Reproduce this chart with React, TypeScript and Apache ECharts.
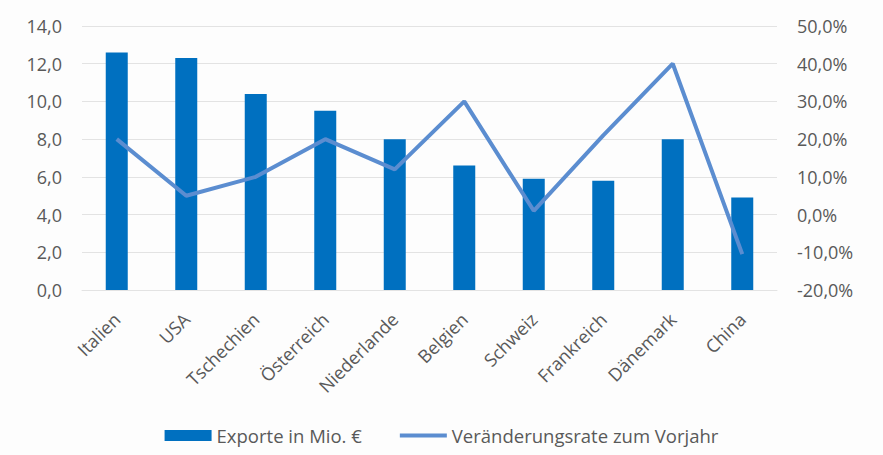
import React, { useEffect, useRef } from "react";
import * as echarts from "echarts";

const categories = ["Italien", "USA", "Tschechien", "Österreich", "Niederlande", "Belgien", "Schweiz", "Frankreich", "Dänemark", "China"];
const exports = [12.6, 12.3, 10.4, 9.5, 8.0, 6.6, 5.9, 5.8, 8.0, 4.9];
const changeRate = [20, 5, 10, 20, 12, 30, 1, 21, 40, -10.5];
const seriesNames = ["Exporte in Mio. €", "Veränderungsrate zum Vorjahr"];

const fmt = (v: number) => v.toFixed(1).replace(".", ",");

export default function App() {
  const ref = useRef<HTMLDivElement>(null);
  useEffect(() => {
    const chart = echarts.init(ref.current!, null, { renderer: "svg" });
    const font = "'Open Sans', 'Noto Sans', sans-serif";
    const grey = "#595959";
    chart.setOption({
      animation: false,
      backgroundColor: "#FDFDFD",
      textStyle: { fontFamily: font },
      grid: { left: 82, right: 106, top: 26, bottom: 165, containLabel: false },
      legend: {
        bottom: 5,
        left: "center",
        itemWidth: 47,
        itemHeight: 11,
        itemGap: 38,
        textStyle: { fontSize: 18.5, color: grey, fontFamily: font },
        data: [
          { name: seriesNames[0], icon: "rect" },
          { name: seriesNames[1], icon: "path://M0,0 M0,3.5 L47,3.5 L47,7.5 L0,7.5 Z M47,11" },
        ],
      },
      xAxis: {
        type: "category",
        data: categories,
        axisLine: { show: true, lineStyle: { color: "#E3E3E3" } },
        axisTick: { show: false },
        axisLabel: { rotate: 45, fontSize: 18, color: grey, margin: 26, interval: 0 },
      },
      yAxis: [
        {
          type: "value",
          min: 0,
          max: 14,
          interval: 2,
          axisLine: { show: false },
          axisTick: { show: false },
          axisLabel: { formatter: (v: number) => fmt(v), fontSize: 18, color: grey, margin: 20 },
          splitLine: { lineStyle: { color: "#E3E3E3" } },
        },
        {
          type: "value",
          min: -20,
          max: 50,
          interval: 10,
          axisLine: { show: false },
          axisTick: { show: false },
          axisLabel: { formatter: (v: number) => fmt(v) + "%", fontSize: 18, color: grey, margin: 20 },
          splitLine: { show: false },
        },
      ],
      series: [
        {
          name: seriesNames[0],
          type: "bar",
          data: exports,
          barWidth: 22,
          itemStyle: { color: "#0070C0" },
        },
        {
          name: seriesNames[1],
          type: "line",
          yAxisIndex: 1,
          data: changeRate,
          symbol: "none",
          lineStyle: { color: "#5B8DD0", width: 4 },
          itemStyle: { color: "#5B8DD0" },
        },
      ],
    });
    return () => chart.dispose();
  }, []);
  return <div ref={ref} style={{ position: "fixed", left: 0, top: 0, width: 883, height: 455 }} />;
}
